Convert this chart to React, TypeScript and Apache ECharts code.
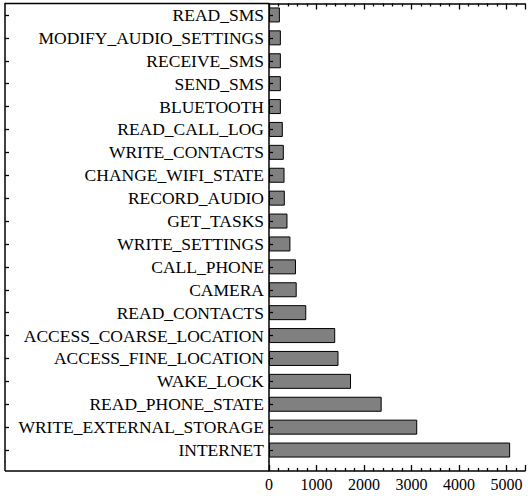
import React, { useEffect, useRef } from "react";
import * as echarts from "echarts";

const categories = [
  "READ_SMS",
  "MODIFY_AUDIO_SETTINGS",
  "RECEIVE_SMS",
  "SEND_SMS",
  "BLUETOOTH",
  "READ_CALL_LOG",
  "WRITE_CONTACTS",
  "CHANGE_WIFI_STATE",
  "RECORD_AUDIO",
  "GET_TASKS",
  "WRITE_SETTINGS",
  "CALL_PHONE",
  "CAMERA",
  "READ_CONTACTS",
  "ACCESS_COARSE_LOCATION",
  "ACCESS_FINE_LOCATION",
  "WAKE_LOCK",
  "READ_PHONE_STATE",
  "WRITE_EXTERNAL_STORAGE",
  "INTERNET",
];

const counts = [
  229, 250, 250, 250, 250, 291, 312, 327, 333, 389, 451, 568, 583, 784, 1394,
  1463, 1727, 2372, 3121, 5077,
];

const xTicks = [0, 1000, 2000, 3000, 4000, 5000];

const FONT = "Liberation Serif";

export default function App() {
  const ref = useRef<HTMLDivElement>(null);
  useEffect(() => {
    if (!ref.current) return;
    const chart = echarts.init(ref.current, undefined, { renderer: "svg" });
    const left = 269;
    const frameLeft = 5;
    const top = 3.5;
    const bottomLine = 471;
    const band = 22.9;
    const plotH = band * categories.length;
    const gridBottomPx = top + plotH;
    const lineSt = { show: true, lineStyle: { color: "#000", width: 1.5 } };
    const xTick = {
      show: true,
      inside: true,
      length: 6,
      lineStyle: { color: "#000", width: 1.3 },
    };
    const xMinor = {
      show: true,
      splitNumber: 5,
      length: 3,
      lineStyle: { color: "#000", width: 1.3 },
    };
    const yTick = {
      show: true,
      inside: true,
      interval: 0,
      alignWithLabel: true,
      length: 4,
      lineStyle: { color: "#000", width: 1.3 },
    };
    chart.setOption({
      animation: false,
      backgroundColor: "#ffffff",
      grid: [
        { left: left, right: 0, top: top, height: plotH },
        { left: frameLeft, width: 10, top: top, height: plotH },
      ],
      xAxis: [
        {
          type: "value",
          gridIndex: 0,
          position: "bottom",
          min: 0,
          max: 5390,
          interval: 1000,
          offset: bottomLine - gridBottomPx,
          axisLine: lineSt,
          axisTick: xTick,
          minorTick: xMinor,
          splitLine: { show: false },
          axisLabel: {
            show: true,
            color: "#000",
            fontFamily: FONT,
            fontSize: 16,
            margin: 5,
            formatter: (v: number) => (xTicks.indexOf(v) >= 0 ? String(v) : ""),
          },
        },
        {
          type: "value",
          gridIndex: 0,
          position: "top",
          min: 0,
          max: 5390,
          interval: 1000,
          axisLine: lineSt,
          axisTick: xTick,
          minorTick: xMinor,
          splitLine: { show: false },
          axisLabel: { show: false },
        },
        {
          type: "value",
          gridIndex: 1,
          show: false,
          min: 0,
          max: 1,
        },
      ],
      yAxis: [
        {
          type: "category",
          gridIndex: 0,
          data: categories,
          inverse: true,
          position: "left",
          z: 10,
          axisLine: lineSt,
          axisTick: yTick,
          axisLabel: {
            color: "#000",
            fontFamily: FONT,
            fontSize: 17.5,
            margin: 5,
            interval: 0,
          },
          splitLine: { show: false },
        },
        {
          type: "category",
          gridIndex: 1,
          data: categories,
          inverse: true,
          position: "left",
          z: 10,
          axisLine: lineSt,
          axisTick: yTick,
          axisLabel: { show: false, interval: 0 },
          splitLine: { show: false },
        },
      ],
      series: [
        {
          type: "bar",
          data: counts,
          xAxisIndex: 0,
          yAxisIndex: 0,
          barWidth: 15,
          itemStyle: {
            color: "#808080",
            borderColor: "#000",
            borderWidth: 1,
          },
          z: 1,
        },
      ],
      graphic: [
        {
          type: "line",
          shape: { x1: frameLeft, y1: top, x2: left, y2: top },
          style: { stroke: "#000", lineWidth: 1.5 },
          z: 100,
        },
        {
          type: "line",
          shape: { x1: frameLeft, y1: bottomLine, x2: left, y2: bottomLine },
          style: { stroke: "#000", lineWidth: 1.5 },
          z: 100,
        },
        {
          type: "line",
          shape: { x1: frameLeft, y1: gridBottomPx, x2: frameLeft, y2: bottomLine },
          style: { stroke: "#000", lineWidth: 1.5 },
          z: 100,
        },
        {
          type: "line",
          shape: { x1: left, y1: gridBottomPx, x2: left, y2: bottomLine },
          style: { stroke: "#000", lineWidth: 1.5 },
          z: 100,
        },
      ],
    });
    return () => chart.dispose();
  }, []);
  return (
    <div
      ref={ref}
      style={{ position: "fixed", left: 0, top: 0, width: 528, height: 496 }}
    />
  );
}
